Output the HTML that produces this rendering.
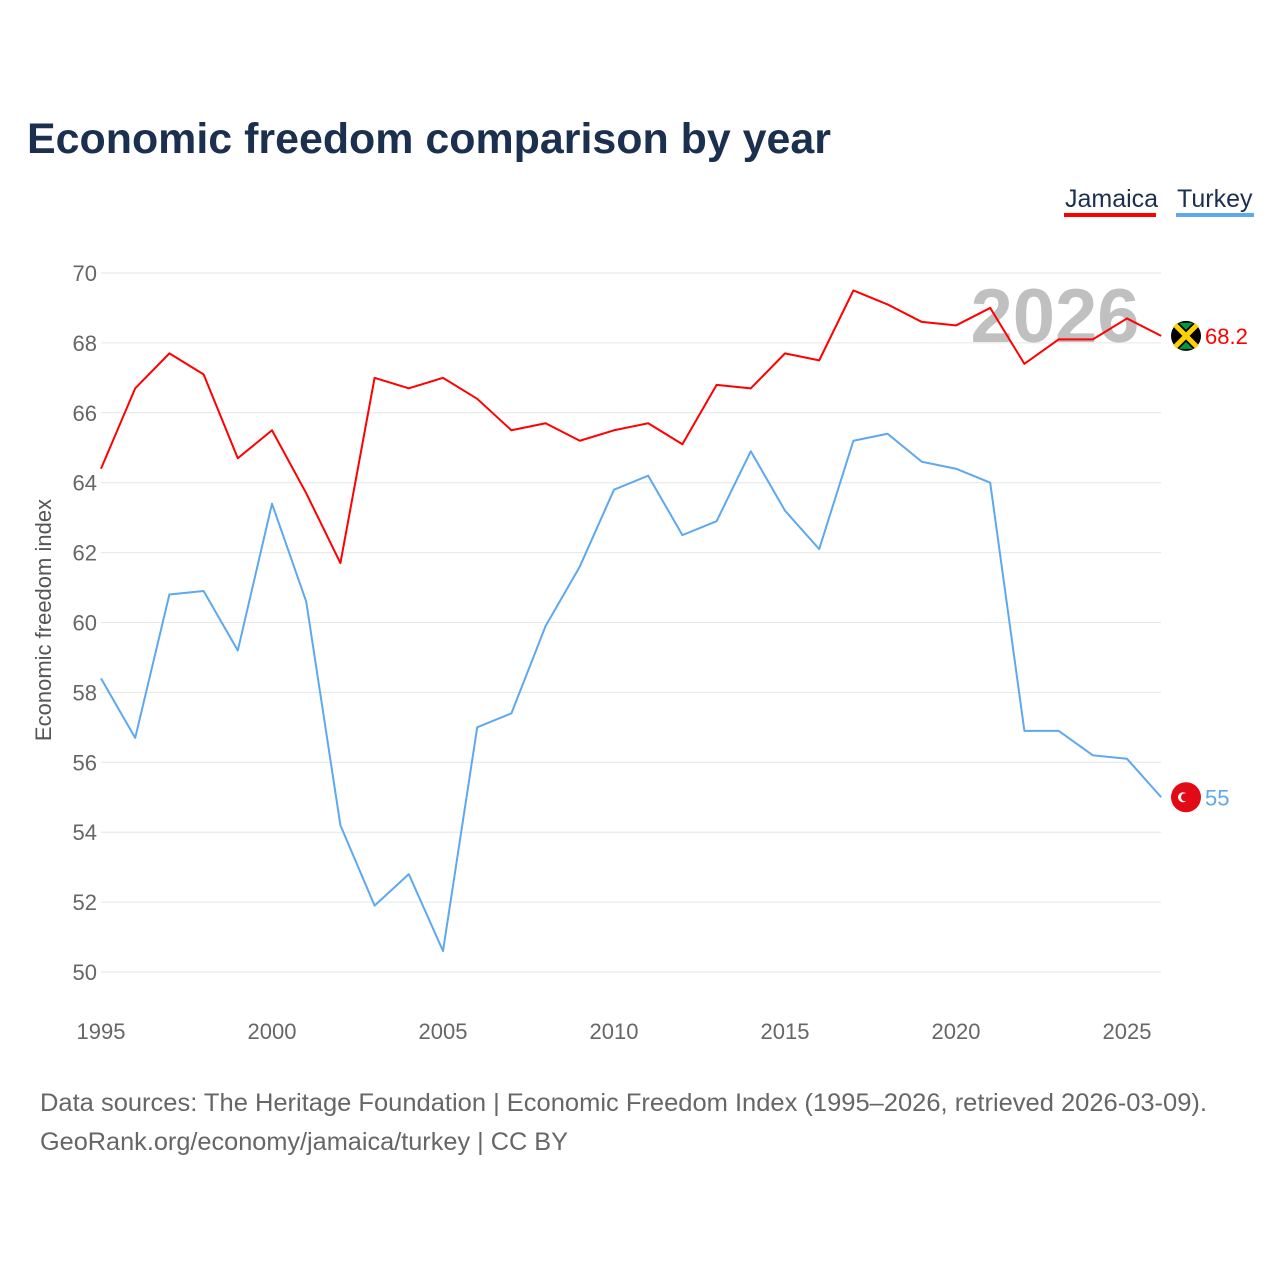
<!DOCTYPE html>
<html><head><meta charset="utf-8">
<style>
body{margin:0;background:#fff;}
svg{display:block;font-family:"Liberation Sans",sans-serif;}
</style></head>
<body>
<svg id="chart" width="1280" height="1280">
<text x="27" y="153" font-size="43" font-weight="bold" fill="#1b2f4f" textLength="804" lengthAdjust="spacingAndGlyphs">Economic freedom comparison by year</text>
<g>
<text x="1065" y="207" font-size="25" fill="#1b2f4f">Jamaica</text>
<rect x="1064" y="213" width="92" height="4" fill="#ff0000"/>
<text x="1177" y="207" font-size="25" fill="#1b2f4f">Turkey</text>
<rect x="1176" y="213" width="78" height="4" fill="#5ea8ee"/>
</g>
<g id="grid"></g>
<text x="1055" y="342" font-size="76" font-weight="bold" fill="#c0c0c0" text-anchor="middle">2026</text>
<text transform="translate(51,620) rotate(-90)" font-size="22" fill="#555" text-anchor="middle">Economic freedom index</text>
<g id="series"></g>
<text x="40" y="1111" font-size="25" fill="#666" textLength="1167" lengthAdjust="spacingAndGlyphs">Data sources: The Heritage Foundation | Economic Freedom Index (1995–2026, retrieved 2026-03-09).</text>
<text x="40" y="1150" font-size="25" fill="#666" textLength="528" lengthAdjust="spacingAndGlyphs">GeoRank.org/economy/jamaica/turkey | CC BY</text>
</svg>
<script>
const years=[1995,1996,1997,1998,1999,2000,2001,2002,2003,2004,2005,2006,2007,2008,2009,2010,2011,2012,2013,2014,2015,2016,2017,2018,2019,2020,2021,2022,2023,2024,2025,2026];
const jamaica=[64.4,66.7,67.7,67.1,64.7,65.5,63.7,61.7,67.0,66.7,67.0,66.4,65.5,65.7,65.2,65.5,65.7,65.1,66.8,66.7,67.7,67.5,69.5,69.1,68.6,68.5,69.0,67.4,68.1,68.1,68.7,68.2];
const turkey=[58.4,56.7,60.8,60.9,59.2,63.4,60.6,54.2,51.9,52.8,50.6,57.0,57.4,59.9,61.6,63.8,64.2,62.5,62.9,64.9,63.2,62.1,65.2,65.4,64.6,64.4,64.0,56.9,56.9,56.2,56.1,55.0];
const yTicks=[50,52,54,56,58,60,62,64,66,68,70];
const xTicks=[1995,2000,2005,2010,2015,2020,2025];
const NS="http://www.w3.org/2000/svg";
const xS=y=>101+(y-1995)*(1127-101)/30;
const yS=v=>972-(v-50)*(972-273)/20;
function mk(tag,attrs,parent){const e=document.createElementNS(NS,tag);for(const k in attrs)e.setAttribute(k,attrs[k]);parent.appendChild(e);return e;}
const grid=document.getElementById('grid');
yTicks.forEach(t=>{
 const l=mk('line',{x1:101,x2:1161,y1:yS(t),y2:yS(t),stroke:'#e6e6e6','stroke-width':1},grid);
 
 
 const tx=mk('text',{x:97,y:yS(t)+8,'font-size':22,fill:'#666','text-anchor':'end'},grid);
 tx.textContent=t;
 
 
});
xTicks.forEach(t=>{
 const tx=mk('text',{x:xS(t),y:1039,'font-size':22,fill:'#666','text-anchor':'middle'},grid);
 tx.textContent=t;
 
 
});
const ser=document.getElementById('series');
function line(vals,color,name){
 const p=mk('polyline',{points:vals.map((v,i)=>xS(years[i])+','+yS(v)).join(' '),fill:'none',stroke:color,'stroke-width':2,'stroke-linejoin':'round'},ser);
 
 
 const last=vals[vals.length-1];
 const cy=yS(last);
 const c=mk('circle',{cx:1186,cy:cy,r:15,fill:name==='jamaica'?'#000':'#e30a17'},ser);
 
 
 if(name==='jamaica'){
  mk('path',{d:`M1175,${cy-11}L1197,${cy+11}M1197,${cy-11}L1175,${cy+11}`,stroke:'#fed100','stroke-width':5},ser);
  mk('path',{d:`M1179,${cy-13}L1186,${cy-6}L1193,${cy-13}Z M1179,${cy+13}L1186,${cy+6}L1193,${cy+13}Z`,fill:'#009b3a'},ser);
 } else {
  mk('circle',{cx:1183,cy:cy,r:5,fill:'#fff'},ser);
  mk('circle',{cx:1185,cy:cy,r:4,fill:'#e30a17'},ser);
 }
 const t=mk('text',{x:1205,y:cy+8,'font-size':22,fill:color},ser);
 t.textContent=String(last);
 
 
}
line(turkey,'#5ea8ee','turkey');
line(jamaica,'#ff0000','jamaica');
</script>
</body></html>
